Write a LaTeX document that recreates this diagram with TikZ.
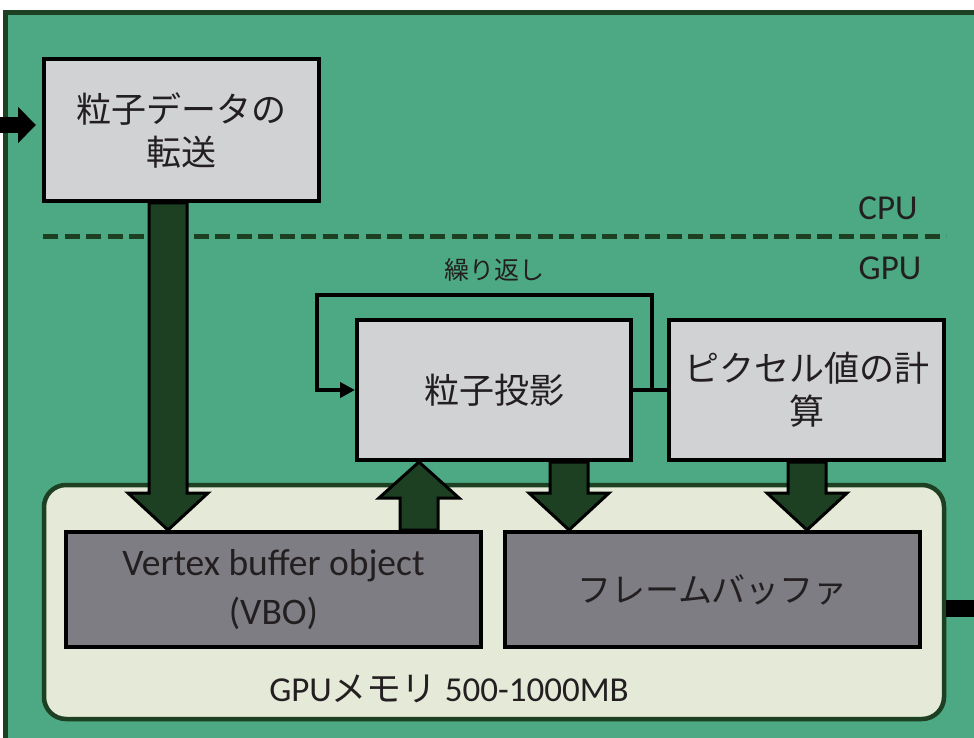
\documentclass[tikz,border=0pt]{standalone}
\usepackage{fontspec}
\setmainfont{Carlito}
\newfontfamily\jp{Noto Sans CJK JP}
\usetikzlibrary{arrows.meta,calc}
\definecolor{bggreen}{HTML}{4CA983}
\definecolor{dkgreen}{HTML}{1D3F22}
\definecolor{boxgrey}{HTML}{D1D2D4}
\definecolor{memfill}{HTML}{E4E9D8}
\definecolor{buffill}{HTML}{7E7D83}
\definecolor{txt}{HTML}{231F20}
\tikzset{
  procbox/.style={draw=black, line width=4pt, fill=boxgrey, text=txt, align=center,
    font=\jp\fontsize{35}{43}\selectfont, inner sep=0pt},
  bufbox/.style={draw=black, line width=4pt, fill=buffill, text=txt, align=center,
    minimum width=415pt, minimum height=115pt, inner sep=0pt},
  membox/.style={draw=dkgreen, line width=4.5pt, fill=memfill, rounded corners=22pt,
    minimum width=900pt, minimum height=234pt, inner sep=0pt},
  lbl/.style={text=txt, inner sep=0pt},
  bigdown/.style={draw=black, line width=3pt, fill=dkgreen, line join=miter,
    to path={let \p1=(\tikztostart), \p2=(\tikztotarget) in
      (\x1-19pt,\y1) -- (\x1+19pt,\y1) -- (\x1+19pt,\y2+37pt) -- (\x1+40pt,\y2+37pt)
      -- (\x2,\y2) -- (\x1-40pt,\y2+37pt) -- (\x1-19pt,\y2+37pt) -- cycle}},
  bigup/.style={draw=black, line width=3pt, fill=dkgreen, line join=miter,
    to path={let \p1=(\tikztostart), \p2=(\tikztotarget) in
      (\x1-19pt,\y1) -- (\x1+19pt,\y1) -- (\x1+19pt,\y2-36pt) -- (\x1+40pt,\y2-36pt)
      -- (\x2,\y2) -- (\x1-40pt,\y2-36pt) -- (\x1-19pt,\y2-36pt) -- cycle}},
  loopline/.style={draw=black, line width=4.5pt},
}
\begin{document}
\begin{tikzpicture}[x=1pt,y=-1pt]
\useasboundingbox (0,0) rectangle (974,738);
\clip (0,0) rectangle (974,738);
\fill[white] (0,0) rectangle (974,738);
% outer green panel
\draw[draw=dkgreen, line width=4.5pt, fill=bggreen] (5.5,12.5) rectangle (1000,760);

% CPU/GPU separator
\draw[dkgreen, line width=5pt, dash pattern=on 15pt off 6.5pt] (43,236) -- (946,236);
\node[lbl, font=\fontsize{35}{40}\selectfont] (cpu) at (888,208) {CPU};
\node[lbl, font=\fontsize{35}{40}\selectfont] (gpu) at (890,268) {GPU};

% memory
\node[membox] (mem) at (494,602) {};
\node[bufbox, font=\fontsize{37.5}{49}\selectfont] (vbo) at (273.5,589.5) {Vertex buffer object\\(VBO)};
\node[bufbox, font=\jp\fontsize{34}{40}\selectfont] (fb) at (712.5,589.5) {フレームバッファ};
\node[lbl, font=\fontsize{35}{40}\selectfont] (memlbl) at (449,689) {GPU{\jp メモリ} 500-1000MB};

% process boxes
\node[procbox, minimum width=275pt, minimum height=142pt] (p1) at (181.5,130) {粒子データの\\転送};
\node[procbox, minimum width=274pt, minimum height=140pt] (p2) at (494,390) {粒子投影};
\node[procbox, minimum width=275pt, minimum height=140pt] (p3) at (806.5,390) {ピクセル値の計\\算};

% input / output
\coordinate (in) at (0,125);
\coordinate (out) at (974,608);
\draw[line width=16pt, -{Triangle[length=18pt,width=35pt]}] (in) -- (in -| 36,0);
\draw[line width=17pt] (mem.east |- out) -- (out);

% loop
\draw[loopline] (p2.east) -- (p3.west);
\draw[loopline, -{Triangle[length=15pt,width=15pt]}]
  ($(p2.east)+(19,0)$) -- ++(0,-95) -| ($(p2.west)+(-38,0)$) -- (p2.west);
\node[lbl, font=\jp\fontsize{25}{30}\selectfont] (rep) at (494,270) {繰り返し};

% big block arrows
\coordinate (a1) at (168,0);
\coordinate (a2) at (419,0);
\coordinate (a3) at (569,0);
\coordinate (a4) at (807,0);
\draw[bigdown] (a1 |- p1.south) to (a1 |- vbo.north);
\draw[bigup] (a2 |- vbo.north) to (a2 |- p2.south);
\draw[bigdown] (a3 |- p2.south) to (a3 |- fb.north);
\draw[bigdown] (a4 |- p3.south) to (a4 |- fb.north);
\end{tikzpicture}
\end{document}
